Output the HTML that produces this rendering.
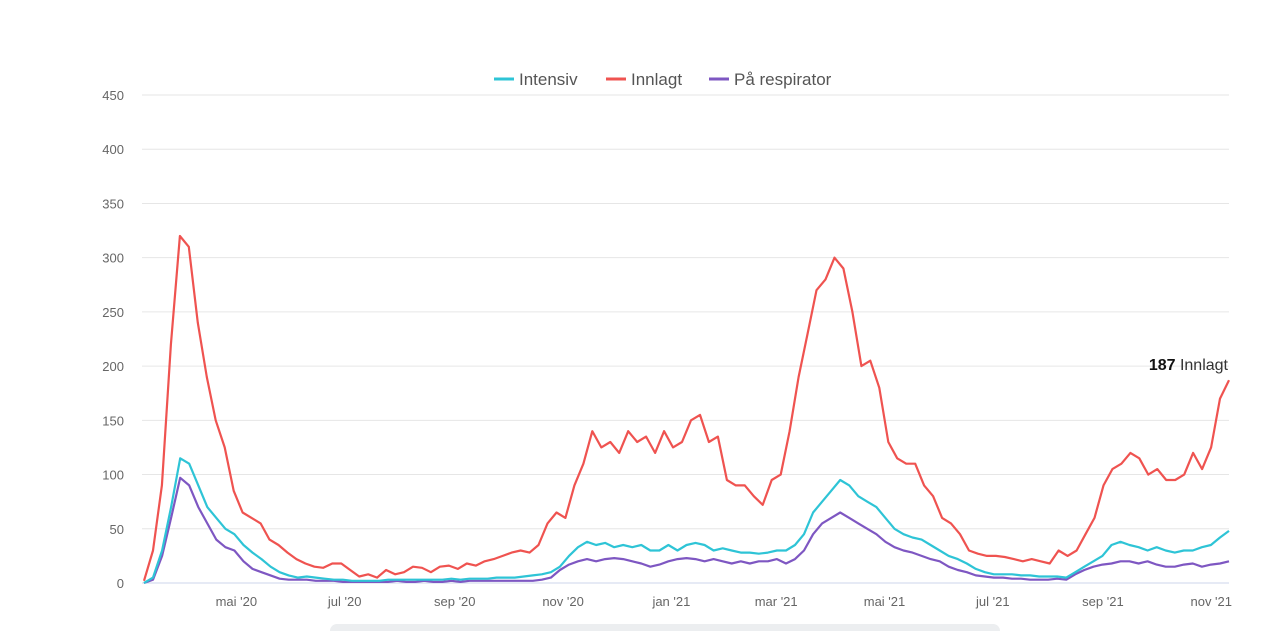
<!DOCTYPE html>
<html><head><meta charset="utf-8"><style>
body{margin:0;background:#fff;width:1280px;height:631px;overflow:hidden;font-family:"Liberation Sans",sans-serif}
svg{display:block}
</style></head><body>
<svg id="chart" width="1280" height="631" xmlns="http://www.w3.org/2000/svg">
<g id="grid"></g>
<g id="yaxis"></g>
<g id="xaxis"></g>
<g id="series"></g>
<g font-size="17" fill="#555">
 <g><line x1="494" y1="79" x2="514" y2="79" stroke="#2ec4d6" stroke-width="3"/><text x="519" y="85">Intensiv</text></g>
 <g><line x1="606" y1="79" x2="626" y2="79" stroke="#ef5350" stroke-width="3"/><text x="631" y="85">Innlagt</text></g>
 <g><line x1="709" y1="79" x2="729" y2="79" stroke="#7e57c2" stroke-width="3"/><text x="734" y="85">På respirator</text></g>
</g>
<text x="1228" y="370" text-anchor="end" font-size="16" fill="#333"><tspan font-weight="bold" fill="#111">187</tspan> Innlagt</text>
<rect x="330" y="624" width="670" height="14" rx="7" fill="#eceef0"/>
</svg>
<script>
const yTicks=[0,50,100,150,200,250,300,350,400,450];
const monthLabels=["mai '20","jul '20","sep '20","nov '20","jan '21","mar '21","mai '21","jul '21","sep '21","nov '21"];
const monthDays=[52,113,175,236,297,356,417,478,540,601]; // days since 10 Mar 2020
const innlagt=[2,30,90,220,320,310,240,190,150,125,85,65,60,55,40,35,28,22,18,15,14,18,18,12,6,8,5,12,8,10,15,14,10,15,16,13,18,16,20,22,25,28,30,28,35,55,65,60,90,110,140,125,130,120,140,130,135,120,140,125,130,150,155,130,135,95,90,90,80,72,95,100,140,190,230,270,280,300,290,250,200,205,180,130,115,110,110,90,80,60,55,45,30,27,25,25,24,22,20,22,20,18,30,25,30,45,60,90,105,110,120,115,100,105,95,95,100,120,105,125,170,187];
const intensiv=[0,5,30,70,115,110,90,70,60,50,45,35,28,22,15,10,7,5,6,5,4,3,3,2,2,2,2,3,3,3,3,3,3,3,4,3,4,4,4,5,5,5,6,7,8,10,15,25,33,38,35,37,33,35,33,35,30,30,35,30,35,37,35,30,32,30,28,28,27,28,30,30,35,45,65,75,85,95,90,80,75,70,60,50,45,42,40,35,30,25,22,18,13,10,8,8,8,7,7,6,6,6,5,10,15,20,25,35,38,35,33,30,33,30,28,30,30,33,35,42,48];
const respirator=[0,3,25,60,97,90,70,55,40,33,30,20,13,10,7,4,3,3,3,2,2,2,1,1,1,1,1,1,2,1,1,2,1,1,2,1,2,2,2,2,2,2,2,2,3,5,12,17,20,22,20,22,23,22,20,18,15,17,20,22,23,22,20,22,20,18,20,18,20,20,22,18,22,30,45,55,60,65,60,55,50,45,38,33,30,28,25,22,20,15,12,10,7,6,5,5,4,4,3,3,3,4,3,8,12,15,17,18,20,20,18,20,17,15,15,17,18,15,17,18,20];
const NS="http://www.w3.org/2000/svg";
const X0=144,X1=1229,Y0=583,YMAX=450,YTOP=95;
const y=v=>Y0-(v/YMAX)*(Y0-YTOP);
const TOTAL_DAYS=611;
const xd=d=>X0+d*(X1-X0)/TOTAL_DAYS;
function mk(tag,attrs,parent){const e=document.createElementNS(NS,tag);for(const k in attrs)e.setAttribute(k,attrs[k]);parent.appendChild(e);return e;}
const grid=document.getElementById('grid'),ya=document.getElementById('yaxis'),xa=document.getElementById('xaxis'),sg=document.getElementById('series');
yTicks.forEach(t=>{
 const l=mk('line',{x1:X0-2,x2:X1,y1:y(t),y2:y(t),stroke:t===0?'#ccd6eb':'#e6e6e6','stroke-width':1},grid);
 
 
 const tx=mk('text',{x:124,y:y(t)+5,'text-anchor':'end','font-size':13,fill:'#666'},ya);
 tx.textContent=t;
 
 
});
monthLabels.forEach((m,k)=>{
 const tx=mk('text',{x:xd(monthDays[k]),y:606,'text-anchor':'middle','font-size':13,fill:'#666'},xa);
 tx.textContent=m;
 
 
});
function line(data,color,name){
 const n=data.length-1;
 const d=data.map((v,i)=>(i?'L':'M')+(X0+i*(X1-X0)/n).toFixed(1)+' '+y(v).toFixed(1)).join(' ');
 const p=mk('path',{d:d,fill:'none',stroke:color,'stroke-width':2.2,'stroke-linejoin':'round'},sg);
 
 
}
line(respirator,'#7e57c2','respirator-line');
line(intensiv,'#2ec4d6','intensiv-line');
line(innlagt,'#ef5350','innlagt-line');
</script>
</body></html>
